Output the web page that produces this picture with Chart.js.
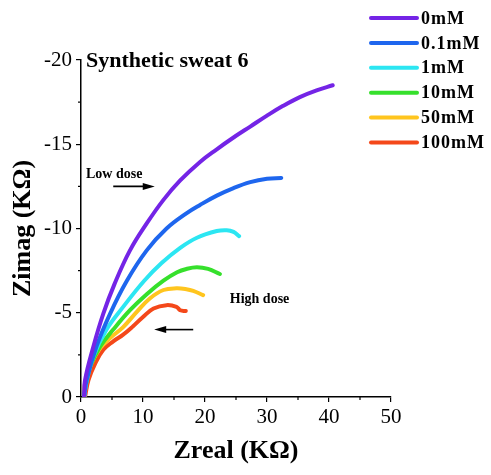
<!DOCTYPE html>
<html>
<head>
<meta charset="utf-8">
<script src="https://cdn.jsdelivr.net/npm/chart.js@4.4.1/dist/chart.umd.min.js"></script>
<style>
  html, body { margin: 0; padding: 0; background: #fff; }
  #wrap { width: 491px; height: 475px; }
</style>
</head>
<body>
<div id="wrap"><canvas id="nyquist"></canvas></div>
<script>
// Series labels and colours
const labels = ['0mM', '0.1mM', '1mM', '10mM', '50mM', '100mM'];
const colors = ['#7424E6', '#1E66EE', '#2CE6F2', '#36E02C', '#FFC51E', '#F4481A'];

// Zreal (KΩ) / Zimag (KΩ)
const zr0   = [0.5, 0.65, 2.0, 3.6, 5.4, 7.9, 10.6, 13.3, 16.0, 19.2, 21.9, 24.6, 27.3, 30.0, 32.6, 35.3, 38.0, 40.6];
const zi0   = [0, -1.0, -3.0, -4.95, -6.7, -8.7, -10.3, -11.7, -12.85, -13.95, -14.7, -15.4, -16.05, -16.7, -17.28, -17.8, -18.2, -18.5];
const zr01  = [0.5, 0.9, 2.5, 4.7, 7.4, 10.6, 13.8, 17.0, 19.2, 21.9, 24.6, 27.3, 30.0, 32.3];
const zi01  = [0, -1.0, -3.0, -4.95, -6.9, -8.7, -10.0, -10.9, -11.4, -11.95, -12.4, -12.75, -12.95, -13.0];
const zr1   = [0.5, 0.9, 2.0, 4.1, 6.8, 10.2, 13.0, 16.0, 18.7, 21.9, 23.5, 24.6, 25.5];
const zi1   = [0, -0.9, -2.4, -4.0, -5.35, -6.9, -7.95, -8.85, -9.45, -9.85, -9.9, -9.8, -9.55];
const zr10  = [0.5, 0.8, 1.45, 3.1, 5.2, 7.9, 10.6, 13.3, 15.5, 17.0, 18.7, 20.5, 22.4];
const zi10  = [0, -0.8, -1.8, -3.0, -4.0, -5.15, -6.1, -6.9, -7.4, -7.6, -7.7, -7.6, -7.3];
const zr50  = [0.5, 0.65, 1.7, 3.1, 4.7, 6.8, 9.0, 11.1, 13.3, 15.4, 17.0, 18.1, 19.7];
const zi50  = [0, -0.8, -2.0, -2.9, -3.5, -4.15, -5.05, -5.85, -6.35, -6.45, -6.4, -6.3, -6.05];
const zr100 = [0.65, 1.2, 2.3, 3.6, 5.2, 6.8, 8.4, 10.0, 11.7, 13.8, 15.4, 16.0, 16.9];
const zi100 = [0, -1.0, -2.0, -2.8, -3.3, -3.7, -4.2, -4.75, -5.25, -5.45, -5.35, -5.15, -5.1];

const xs = [zr0, zr01, zr1, zr10, zr50, zr100];
const ys = [zi0, zi01, zi1, zi10, zi50, zi100];

// Axis ticks
const xTicks = [0, 10, 20, 30, 40, 50];
const yTicks = [0, -5, -10, -15, -20];

const serif = '"Liberation Serif", "Times New Roman", serif';

const datasets = labels.map((lab, i) => ({
    label: lab,
    data: xs[i].map((x, j) => ({ x: x, y: ys[i][j] })),
    borderColor: colors[i],
    backgroundColor: colors[i],
    borderWidth: 4,
    pointRadius: 0,
    showLine: true,
    tension: 0.4,
    borderCapStyle: 'round',
    borderJoinStyle: 'round'
}));

// Minor ticks, legend and notes drawn on top with the chart's own scales
const extras = {
    id: 'extras',
    afterDraw(chart) {
        const ctx = chart.ctx;
        const sx = chart.scales.x;
        const sy = chart.scales.y;
        const area = chart.chartArea;
        ctx.save();
        ctx.strokeStyle = '#000';
        ctx.lineWidth = 1.2;
        // minor ticks
        for (let v = 5; v < 50; v += 10) {
            const px = sx.getPixelForValue(v);
            ctx.beginPath(); ctx.moveTo(px, area.bottom); ctx.lineTo(px, area.bottom + 3); ctx.stroke();
        }
        for (let v = -2.5; v > -20; v -= 5) {
            const py = sy.getPixelForValue(v);
            ctx.beginPath(); ctx.moveTo(area.left, py); ctx.lineTo(area.left - 3, py); ctx.stroke();
        }

        // legend
        ctx.font = 'bold 18px ' + serif;
        ctx.letterSpacing = '1px';
        ctx.textBaseline = 'middle';
        ctx.textAlign = 'left';
        chart.data.datasets.forEach((ds, i) => {
            const y = 18 + i * 24.9;
            ctx.strokeStyle = ds.borderColor;
            ctx.lineWidth = 4;
            ctx.lineCap = 'round';
            ctx.beginPath(); ctx.moveTo(371, y); ctx.lineTo(417, y); ctx.stroke();
            ctx.fillStyle = '#000';
            ctx.fillText(ds.label, 421, y + 1);
        });
        ctx.letterSpacing = '0px';

        // title inside the plot
        ctx.fillStyle = '#000';
        ctx.font = 'bold 22px ' + serif;
        ctx.fillText('Synthetic sweat 6', area.left + 5, sy.getPixelForValue(-19.9));

        // notes and arrows
        ctx.font = 'bold 14px ' + serif;
        ctx.fillText('Low dose', sx.getPixelForValue(0.8), sy.getPixelForValue(-13.2));
        ctx.fillText('High dose', sx.getPixelForValue(24), sy.getPixelForValue(-5.8));
        drawArrow(ctx, sx.getPixelForValue(5.2), sy.getPixelForValue(-12.5), sx.getPixelForValue(11.9));
        drawArrow(ctx, sx.getPixelForValue(18.1), sy.getPixelForValue(-4.0), sx.getPixelForValue(11.8));
        ctx.restore();
    }
};

function drawArrow(ctx, x1, y, x2) {
    const dir = x2 > x1 ? 1 : -1;
    ctx.strokeStyle = '#000';
    ctx.fillStyle = '#000';
    ctx.lineWidth = 1.6;
    ctx.lineCap = 'butt';
    ctx.beginPath(); ctx.moveTo(x1, y); ctx.lineTo(x2 - dir * 8, y); ctx.stroke();
    ctx.beginPath();
    ctx.moveTo(x2, y);
    ctx.lineTo(x2 - dir * 12, y - 3.5);
    ctx.lineTo(x2 - dir * 12, y + 3.5);
    ctx.closePath();
    ctx.fill();
}

new Chart(document.getElementById('nyquist'), {
    type: 'scatter',
    data: { datasets: datasets },
    options: {
        responsive: true,
        maintainAspectRatio: false,
        animation: false,
        layout: { padding: { top: 60, right: 100, bottom: 0, left: 0 } },
        plugins: {
            legend: { display: false },
            tooltip: { enabled: false }
        },
        scales: {
            x: {
                type: 'linear',
                min: 0,
                max: 50,
                afterFit(scale) { scale.height = 78; },
                afterBuildTicks(scale) { scale.ticks = xTicks.map(v => ({ value: v })); },
                border: { display: true, color: '#000', width: 1.5 },
                grid: { drawOnChartArea: false, drawTicks: true, tickLength: 5, color: '#000', lineWidth: 1.2 },
                ticks: { color: '#000', font: { family: serif, size: 21 }, padding: 3, maxRotation: 0 },
                title: { display: true, text: 'Zreal (KΩ)', color: '#000', font: { family: serif, size: 26, weight: 'bold' }, padding: { top: 0, bottom: 8 } }
            },
            y: {
                type: 'linear',
                min: -20,
                max: 0,
                reverse: true,
                afterFit(scale) { scale.width = 81; },
                afterBuildTicks(scale) { scale.ticks = yTicks.map(v => ({ value: v })); },
                border: { display: true, color: '#000', width: 1.5 },
                grid: { drawOnChartArea: false, drawTicks: true, tickLength: 5, color: '#000', lineWidth: 1.2 },
                ticks: { color: '#000', font: { family: serif, size: 21 }, padding: 4 },
                title: { display: true, text: 'Zimag (KΩ)', color: '#000', font: { family: serif, size: 26, weight: 'bold' }, padding: { top: 8, bottom: 0 } }
            }
        }
    },
    plugins: [extras]
});
</script>
</body>
</html>
